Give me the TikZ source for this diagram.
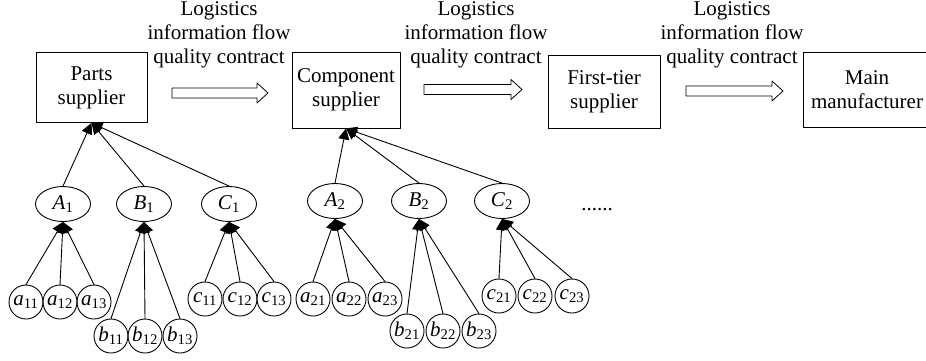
\documentclass[tikz,border=0pt]{standalone}
\usepackage{fontspec}
\setmainfont{Liberation Serif}
\usetikzlibrary{arrows.meta}
\usetikzlibrary{shapes.geometric}

\tikzset{
  box/.style={draw,align=center,inner sep=0pt},
  sub/.style={draw,ellipse,minimum width=55pt,minimum height=35pt,inner sep=0pt},
  leaf/.style={draw,circle,minimum size=34pt,inner sep=0pt},
  flowlabel/.style={align=center,inner sep=0pt}
}
\newcommand{\idx}[2]{\textit{#1}\textsubscript{#2}}
\newcommand{\hollow}[3]{\draw[line width=0.8pt] (#1,#3-5)--(#2-11,#3-5)--(#2-11,#3-10)--(#2,#3)--(#2-11,#3+10)--(#2-11,#3+5)--(#1,#3+5)--cycle;}

\begin{document}
\begin{tikzpicture}[line cap=round,line join=round,>={Triangle[length=11pt,width=11pt]},x=1pt,y=-1pt,line width=0.9pt,font=\fontsize{21}{24}\selectfont]
\useasboundingbox (0,0) rectangle (926,360);
% suppliers
\node[box,minimum width=111pt,minimum height=70pt] (parts) at (91.5,87.5) {Parts\\supplier};
\node[box,minimum width=108pt,minimum height=76pt] (comp) at (346,90) {Component\\supplier};
\node[box,minimum width=112pt,minimum height=73pt] (first) at (604,91.5) {First-tier\\supplier};
\node[box,minimum width=128pt,minimum height=75pt] (main) at (867,90) {Main\\manufacturer};
%
\node[flowlabel] (flow1) at (219,35) {Logistics\\information flow\\quality contract};
\node[flowlabel] (flow2) at (476,35) {Logistics\\information flow\\quality contract};
\node[flowlabel] (flow3) at (732,35) {Logistics\\information flow\\quality contract};
\hollow{172}{268}{93}
\hollow{424}{522}{89.5}
\hollow{686}{783}{91}
% first group
\node[sub] (A1) at (63,204) {\idx{A}{1}};
\node[sub] (B1) at (144,204) {\idx{B}{1}};
\node[sub] (C1) at (229,204) {\idx{C}{1}};
\foreach \n/\x in {1/26,2/60,3/94} \node[leaf] (a1\n) at (\x,302) {\idx{a}{1\n}};
\foreach \n/\x in {1/111,2/145,3/180} \node[leaf] (b1\n) at (\x,336) {\idx{b}{1\n}};
\foreach \n/\x in {1/205,2/240,3/274} \node[leaf] (c1\n) at (\x,299) {\idx{c}{1\n}};
% second group
\node[sub] (A2) at (335,201) {\idx{A}{2}};
\node[sub] (B2) at (419,201) {\idx{B}{2}};
\node[sub] (C2) at (502,201) {\idx{C}{2}};
\foreach \n/\x in {1/313,2/349,3/385} \node[leaf] (a2\n) at (\x,299) {\idx{a}{2\n}};
\foreach \n/\x in {1/407,2/443,3/479} \node[leaf] (b2\n) at (\x,331) {\idx{b}{2\n}};
\foreach \n/\x in {1/499,2/535,3/572} \node[leaf] (c2\n) at (\x,296) {\idx{c}{2\n}};
\node (more) at (597,210) {......};
%
\foreach \g/\s in {1/parts,2/comp}{
  \foreach \p in {A,B,C} \draw[->] (\p\g.north) -- (\s.south);
  \foreach \p/\q in {A/a,B/b,C/c}
    \foreach \n in {1,2,3} \draw[->] (\q\g\n.north) -- (\p\g.south);
}
\end{tikzpicture}
\end{document}
